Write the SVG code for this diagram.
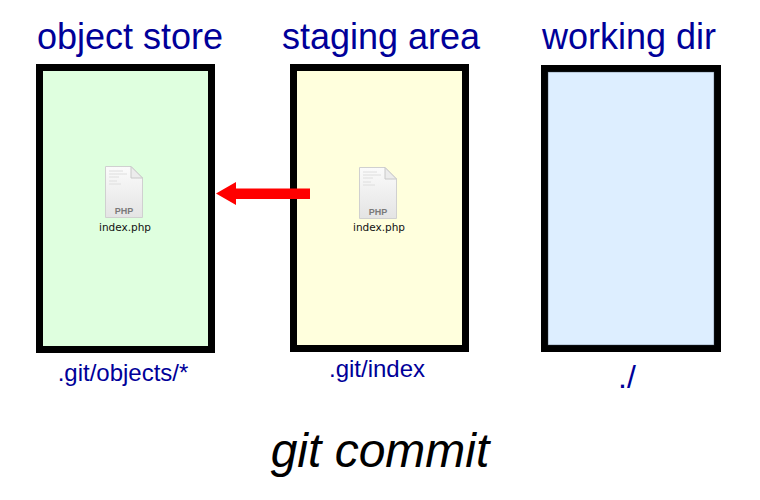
<svg xmlns="http://www.w3.org/2000/svg" width="760" height="500" viewBox="0 0 760 500">
<style>
.title{font-family:"Liberation Sans",Arial,sans-serif;font-size:36px;fill:#000099;text-anchor:middle}
.path{font-family:"Liberation Sans",Arial,sans-serif;font-size:24px;fill:#000099;text-anchor:middle}
.box{stroke:#000;stroke-width:7}
.fname{font-family:"DejaVu Sans","Liberation Sans",sans-serif;font-size:10.5px;fill:#111;text-anchor:middle}
.php{font-family:"Liberation Sans",Arial,sans-serif;font-size:9px;font-weight:bold;fill:#7a7a7a;text-anchor:middle}
.doc{fill:url(#docg);stroke:#d0d0d0;stroke-width:1}
.fold{fill:#ececec;stroke:#c8c8c8;stroke-width:1}
.scrib{stroke:#dedede;stroke-width:1}
.cmd{font-family:"Liberation Sans",Arial,sans-serif;font-size:48px;font-style:italic;fill:#000;text-anchor:middle}
</style>
<defs>
<linearGradient id="docg" x1="0" y1="0" x2="0" y2="1">
<stop offset="0" stop-color="#fbfbfb"/>
<stop offset="1" stop-color="#e4e4e4"/>
</linearGradient>
<symbol id="phpfile" viewBox="0 0 38 52" overflow="visible">
<path class="doc" d="M0.5,0.5 H26 L37.5,12 V51.5 H0.5 Z"/>
<path class="fold" d="M26,0.5 V12 H37.5 Z"/>
<line class="scrib" x1="4" y1="5" x2="18" y2="5"/>
<line class="scrib" x1="4" y1="8" x2="22" y2="8"/>
<line class="scrib" x1="4" y1="11" x2="14" y2="11"/>
<line class="scrib" x1="4" y1="15" x2="12" y2="15"/>
<line class="scrib" x1="4" y1="18" x2="16" y2="18"/>
<text class="php" x="19" y="48">PHP</text>
</symbol>
</defs>
<rect width="760" height="500" fill="#fff"/>

<g id="object-store">
<text class="title" x="130" y="49">object store</text>
<rect class="box" x="39.5" y="67.5" width="172" height="282" fill="#dfffdf"/>
<text class="path" x="123" y="381">.git/objects/*</text>
</g>

<g id="staging-area">
<text class="title" x="381" y="49">staging area</text>
<rect class="box" x="293.5" y="67.5" width="172" height="281" fill="#ffffdd"/>
<text class="path" x="377" y="377">.git/index</text>
</g>

<g id="working-dir">
<text class="title" x="629" y="49">working dir</text>
<rect class="box" x="544.5" y="68.5" width="173" height="280" fill="#ddeeff"/>
<rect x="548" y="72" width="166" height="273" fill="none" stroke="#33404d" stroke-opacity="0.5" stroke-width="0.8"/>
<text class="path" x="627" y="388" style="font-size:32px">./</text>
</g>

<g id="file-objects">
<use href="#phpfile" x="105" y="166" width="38" height="52"/>
<text class="fname" x="125" y="231">index.php</text>
</g>

<g id="file-staging">
<use href="#phpfile" x="359" y="167" width="38" height="52"/>
<text class="fname" x="379" y="231">index.php</text>
</g>

<g id="connectors">
<polygon points="216,193.5 236,182 236,188.5 310,188.5 310,199 236,199 236,205" fill="#ff0000"/>
</g>

<text class="cmd" x="380" y="467">git commit</text>
</svg>
